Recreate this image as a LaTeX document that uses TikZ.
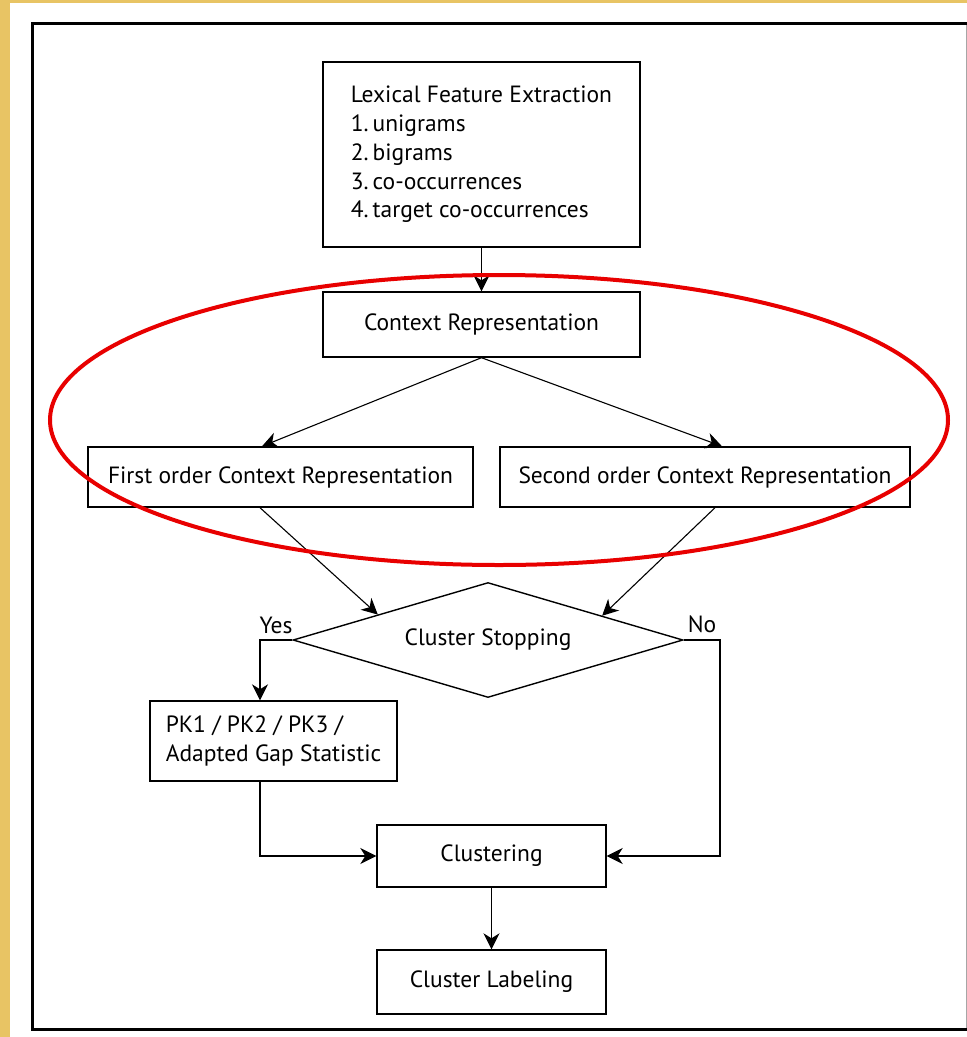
\documentclass[tikz,border=0pt]{standalone}
\usepackage{fontspec}
\setmainfont{PT Sans}
\usetikzlibrary{shapes.geometric,arrows.meta}
\definecolor{gold}{RGB}{232,196,100}
\definecolor{ringred}{RGB}{232,0,0}
\begin{document}
\begin{tikzpicture}[x=1pt,y=-1pt,
  box/.style={draw,line width=1.4pt,inner sep=0pt,align=center,
    font=\fontsize{23.5}{28.7}\selectfont},
  conn/.style={line width=1.1pt},
  arr/.style={conn,-{Stealth[length=16pt,width=16pt,inset=5pt]}},
  lbl/.style={inner sep=0pt,font=\fontsize{23.5}{26}\selectfont}]
% page and frame
\fill[gold] (0,0) rectangle (967,1037);
\fill[white] (10,3) rectangle (967,1037);
\useasboundingbox (0,0) rectangle (967,1037);
\draw[line width=3pt] (967,23.5) -- (32.5,23.5) -- (32.5,1029) -- (967,1029);
\draw[gray!70,line width=1pt] (966,25) -- (966,1027.5);

% boxes
\node[box,minimum width=317,minimum height=185,align=left]
  (lex) at (481.5,154.5) {Lexical Feature Extraction\\1.\,unigrams\\2.\,bigrams\\3.\,co-occurrences\\4.\,target co-occurrences};
\node[box,minimum width=317,minimum height=65] (ctx) at (481.5,324.5) {Context Representation};
\node[box,minimum width=385,minimum height=60] (first) at (280.5,477) {First order Context Representation};
\node[box,minimum width=410,minimum height=60] (second) at (705,477) {Second order Context Representation};
\node[box,diamond,aspect=3.39,minimum width=390,minimum height=115] (stop) at (488,640) {Cluster Stopping};
\node[box,minimum width=247,minimum height=80,align=left] (pk) at (273.5,741)
  {PK1 / PK2 / PK3 /\\Adapted Gap Statistic};
\node[box,minimum width=229,minimum height=62] (clu) at (491.5,856) {Clustering};
\node[box,minimum width=229,minimum height=64] (lab) at (491.5,982) {Cluster Labeling};

% branch labels
\node[lbl] (yes) at (276,625) {Yes};
\node[lbl] (no) at (702,624) {No};
\coordinate (noturn) at (720,640);

% connectors
\draw[arr] (lex.south) -- (ctx.north);
\draw[arr] (ctx.south) -- ([xshift=-18.5]first.north);
\draw[arr] (ctx.south) -- ([xshift=17]second.north);
\draw[arr] ([xshift=-20.5]first.south) -- (stop.167);
\draw[arr] ([xshift=10]second.south) -- (stop.12);
\draw[arr] (stop.west) -| ([xshift=-13.5]pk.north);
\draw[arr] (stop.east) -- (noturn) |- (clu.east);
\draw[arr] ([xshift=-13.5]pk.south) |- (clu.west);
\draw[arr] (clu.south) -- (lab.north);

% highlight ring
\draw[ringred,line width=4pt] (499,420) ellipse [x radius=449,y radius=145];
\end{tikzpicture}
\end{document}
